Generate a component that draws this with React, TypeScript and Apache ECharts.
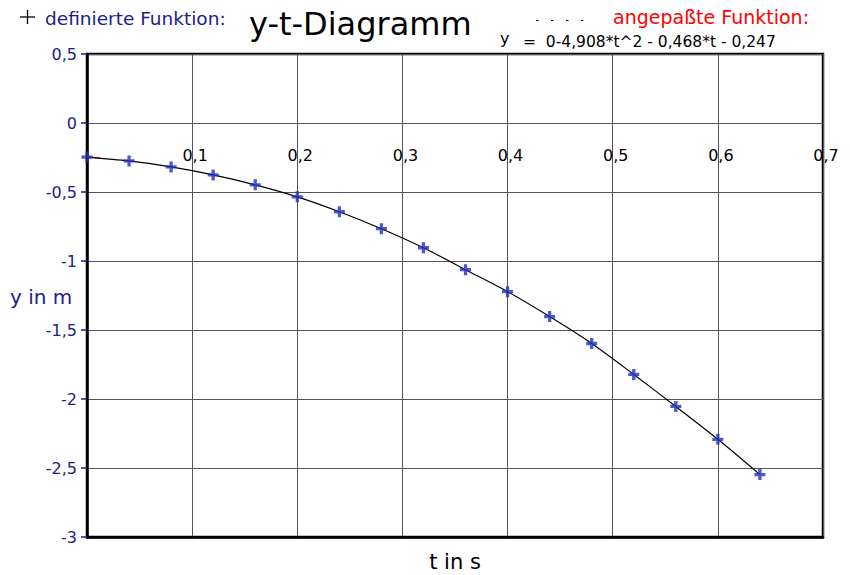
import React, { useEffect, useRef } from "react";
import * as echarts from "echarts";

const tValues = [0, 0.04, 0.08, 0.12, 0.16, 0.2, 0.24, 0.28, 0.32, 0.36, 0.4, 0.44, 0.48, 0.52, 0.56, 0.6, 0.64];
const yValues = [-0.247, -0.275, -0.318, -0.376, -0.448, -0.535, -0.643, -0.766, -0.904, -1.063, -1.222, -1.403, -1.598, -1.822, -2.054, -2.292, -2.548];
// short visible piece of the red fitted curve near t = 0
const fittedT = [0, 0.012];
const fittedY = [-0.247, -0.253];

const titleText = "y-t-Diagramm";
const legendDefined = "definierte Funktion:";
const legendFitted = "angepaßte Funktion:";
const eqLeft = "y";
const eqRight = "=  0-4,908*t^2 - 0,468*t - 0,247";
const xName = "t in s";
const yName = "y in m";

const FONT = "'DejaVu Sans', Verdana, sans-serif";
const BLUE = "#1c1c8a";
const MARK = "#1f2fbf";
const PLUS = "path://M3.5,0 H6.5 V3.5 H10 V6.5 H6.5 V10 H3.5 V6.5 H0 V3.5 H3.5 Z";

const fmt = (v: number) => String(Math.round(v * 10) / 10).replace(".", ",");

export default function App() {
  const ref = useRef<HTMLDivElement>(null);
  useEffect(() => {
    if (!ref.current) return;
    const chart = echarts.init(ref.current, null, { renderer: "svg" });
    const pts = tValues.map((t, i) => [t, yValues[i]]);
    const fitPts = fittedT.map((t, i) => [t, fittedY[i]]);
    chart.setOption({
      animation: false,
      backgroundColor: "#ffffff",
      textStyle: { fontFamily: FONT },
      title: {
        text: titleText,
        left: 244,
        top: 3,
        textStyle: { fontFamily: FONT, fontSize: 32, fontWeight: "normal", color: "#000" },
      },
      grid: {
        left: 87,
        right: 27,
        top: 54,
        bottom: 38,
        containLabel: false,
        outerBoundsMode: "none",
        show: true,
        borderColor: "#000",
        borderWidth: 2.5,
      },
      xAxis: [
        {
          type: "value",
          min: 0,
          max: 0.7,
          interval: 0.1,
          position: "bottom",
          axisLine: { show: true, onZero: false, lineStyle: { color: "#000", width: 2.5 } },
          axisTick: { show: false },
          axisLabel: { show: false },
          splitLine: { show: true, lineStyle: { color: "#555", width: 1 } },
          name: xName,
          nameLocation: "middle",
          nameGap: 14,
          nameTextStyle: { fontFamily: FONT, fontSize: 21, color: "#000" },
        },
        {
          type: "value",
          min: 0,
          max: 0.7,
          interval: 0.1,
          position: "bottom",
          offset: -414,
          axisLine: { show: false, onZero: false },
          axisTick: { show: false },
          splitLine: { show: false },
          axisLabel: {
            show: true,
            showMinLabel: false,
            margin: 24,
            padding: [0, 0, 0, 6],
            fontFamily: FONT,
            fontSize: 16,
            color: "#000",
            formatter: fmt,
          },
        },
      ],
      yAxis: {
        type: "value",
        min: -3,
        max: 0.5,
        interval: 0.5,
        axisLine: { show: true, onZero: false, lineStyle: { color: "#000", width: 2.5 } },
        axisTick: { show: true, length: 6, lineStyle: { color: BLUE, width: 1.5 } },
        axisLabel: { margin: 10, fontFamily: FONT, fontSize: 16, color: BLUE, formatter: fmt },
        splitLine: { show: true, lineStyle: { color: "#555", width: 1 } },
      },
      series: [
        {
          type: "line",
          name: "angepasst",
          data: fitPts,
          showSymbol: false,
          symbol: "none",
          lineStyle: { color: "#ff3030", width: 1.5 },
          z: 2,
        },
        {
          type: "line",
          data: pts,
          smooth: 0.3,
          showSymbol: false,
          symbol: "none",
          lineStyle: { color: "#000", width: 1.2 },
          z: 2,
        },
        {
          type: "scatter",
          data: pts,
          symbol: PLUS,
          symbolSize: 11,
          itemStyle: { color: MARK },
          z: 3,
        },
      ],
      graphic: [
        {
          type: "text",
          x: 10,
          y: 297,
          style: { text: yName, fontFamily: FONT, fontSize: 20, fill: BLUE, verticalAlign: "middle" },
        },
        { type: "line", shape: { x1: 20, y1: 17, x2: 35, y2: 17 }, style: { stroke: "#000", lineWidth: 1.3 } },
        { type: "line", shape: { x1: 27.5, y1: 10, x2: 27.5, y2: 24 }, style: { stroke: "#000", lineWidth: 1.3 } },
        {
          type: "text",
          x: 45,
          y: 18,
          style: { text: legendDefined, fontFamily: FONT, fontSize: 18.5, fill: BLUE, verticalAlign: "middle" },
        },
        {
          type: "line",
          shape: { x1: 536, y1: 20.5, x2: 584, y2: 20.5 },
          style: { stroke: "#000", lineWidth: 1, lineDash: [2.5, 12.5] },
        },
        {
          type: "text",
          x: 613,
          y: 17,
          style: { text: legendFitted, fontFamily: FONT, fontSize: 19, fill: "#ff0000", verticalAlign: "middle" },
        },
        {
          type: "text",
          x: 500,
          y: 38,
          style: { text: eqLeft, fontFamily: FONT, fontSize: 16, fill: "#000", verticalAlign: "middle" },
        },
        {
          type: "text",
          x: 523,
          y: 42,
          style: { text: eqRight, fontFamily: FONT, fontSize: 15.5, fill: "#000", verticalAlign: "middle" },
        },
      ],
    });
    return () => chart.dispose();
  }, []);
  return <div ref={ref} style={{ width: 850, height: 575, position: "absolute", left: 0, top: 0 }} />;
}
